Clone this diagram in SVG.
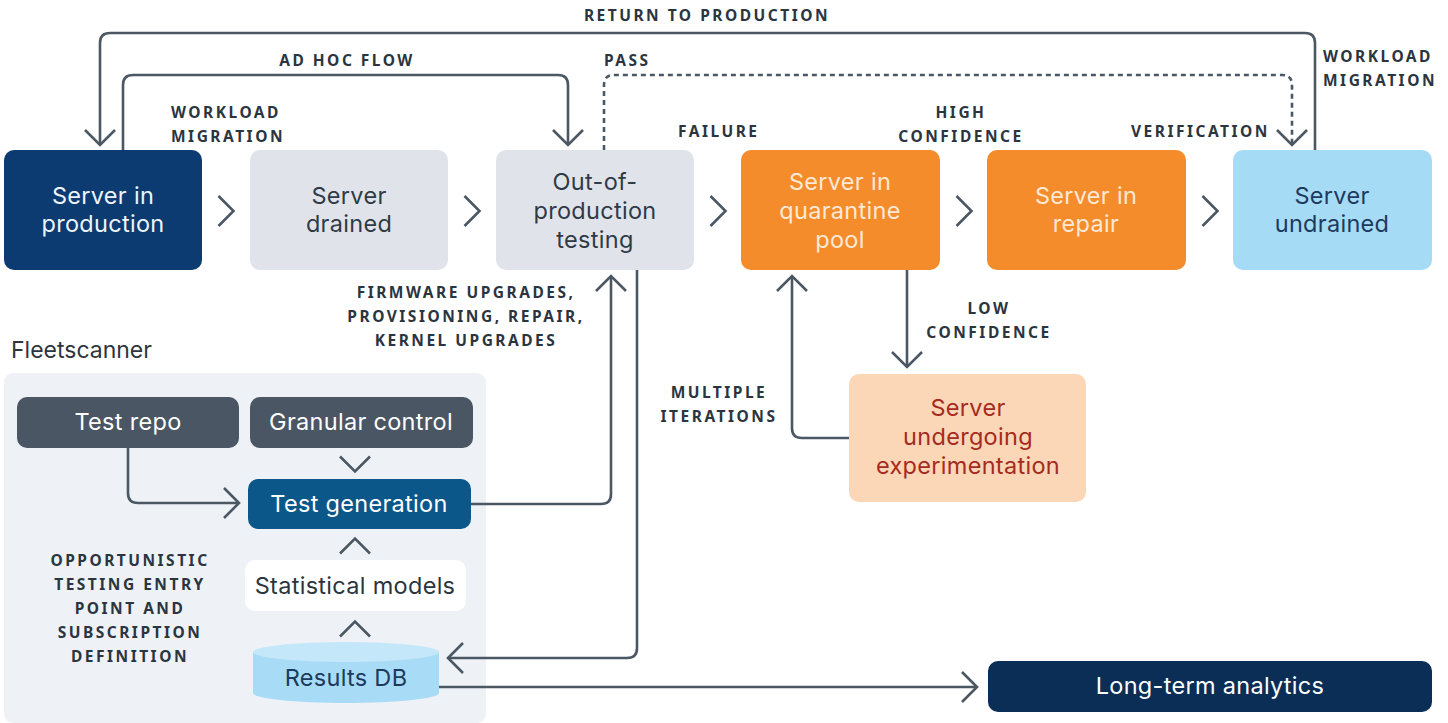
<svg xmlns="http://www.w3.org/2000/svg" xmlns:xlink="http://www.w3.org/1999/xlink" width="1448" height="723" viewBox="0 0 1448 723">
<style>
.node{font-family:Inter,"Noto Sans","Liberation Sans",sans-serif;font-size:23.5px;letter-spacing:0.3px;text-anchor:middle}
.lbl{font-family:"Noto Sans","Liberation Sans",sans-serif;font-size:15.5px;font-weight:700;letter-spacing:2.5px;fill:#2b3540}
.lblm{text-anchor:middle}
.con{fill:none;stroke:#4b5763;stroke-width:2.6}
.chev{fill:none;stroke:#4b5763;stroke-width:2.6;stroke-linejoin:miter}
</style>
<defs>
<marker id="ah" markerUnits="userSpaceOnUse" viewBox="-20 -20 24 40" refX="0" refY="0" markerWidth="24" markerHeight="40" orient="auto" overflow="visible">
<path d="M-15,-15 L0,0 L-15,15" fill="none" stroke="#4b5763" stroke-width="2.6"/>
</marker>
<path id="chev" d="M-7.5,-15 L7.5,0 L-7.5,15" class="chev"/>
</defs>
<rect width="1448" height="723" fill="#ffffff"/>

<!-- Fleetscanner panel -->
<g id="fleetscanner">
<rect x="4" y="373" width="482" height="350" rx="9" fill="#eef2f7"/>
<text x="11" y="358" font-family="Inter,'Noto Sans','Liberation Sans',sans-serif" font-size="23" fill="#2d3640">Fleetscanner</text>
</g>

<!-- connectors -->
<g id="connectors">
<path class="con" d="M1315,150 V43 Q1315,33 1305,33 H110 Q100,33 100,43 V145" marker-end="url(#ah)"/>
<path class="con" d="M123,150 V85 Q123,75 133,75 H558 Q568,75 568,85 V145" marker-end="url(#ah)"/>
<path class="con" d="M604,150 V85 Q604,75 614,75 H1282 Q1292,75 1292,85 V145" stroke-dasharray="5 4" marker-end="url(#ah)"/>
<path class="con" d="M128,447 V493 Q128,503 138,503 H239" marker-end="url(#ah)"/>
<path class="con" d="M471,504 H601 Q611,504 611,494 V276" marker-end="url(#ah)"/>
<path class="con" d="M637,270 V648 Q637,658 627,658 H448" marker-end="url(#ah)"/>
<path class="con" d="M439,687 H977" marker-end="url(#ah)"/>
<path class="con" d="M907,270 V367" marker-end="url(#ah)"/>
<path class="con" d="M849,438 H802 Q792,438 792,428 V276" marker-end="url(#ah)"/>
<use xlink:href="#chev" href="#chev" x="226" y="211"/>
<use xlink:href="#chev" href="#chev" x="472" y="211"/>
<use xlink:href="#chev" href="#chev" x="718" y="211"/>
<use xlink:href="#chev" href="#chev" x="964" y="211"/>
<use xlink:href="#chev" href="#chev" x="1210" y="211"/>
<use xlink:href="#chev" href="#chev" transform="translate(355,464) rotate(90)"/>
<use xlink:href="#chev" href="#chev" transform="translate(355,546) rotate(-90)"/>
<use xlink:href="#chev" href="#chev" transform="translate(355,629) rotate(-90)"/>
</g>

<!-- labels -->
<g id="labels">
<text class="lbl lblm" x="707" y="21">RETURN TO PRODUCTION</text>
<text class="lbl lblm" x="347" y="66">AD HOC FLOW</text>
<text class="lbl" x="604" y="66">PASS</text>
<text class="lbl" x="171" y="118">WORKLOAD</text>
<text class="lbl" x="171" y="142">MIGRATION</text>
<text class="lbl" x="678" y="137">FAILURE</text>
<text class="lbl lblm" x="961" y="118">HIGH</text>
<text class="lbl lblm" x="961" y="142">CONFIDENCE</text>
<text class="lbl" x="1131" y="137">VERIFICATION</text>
<text class="lbl" x="1323" y="62">WORKLOAD</text>
<text class="lbl" x="1323" y="86">MIGRATION</text>
<text class="lbl lblm" x="466" y="298">FIRMWARE UPGRADES,</text>
<text class="lbl lblm" x="466" y="322">PROVISIONING, REPAIR,</text>
<text class="lbl lblm" x="466" y="346">KERNEL UPGRADES</text>
<text class="lbl lblm" x="989" y="314">LOW</text>
<text class="lbl lblm" x="989" y="338">CONFIDENCE</text>
<text class="lbl lblm" x="719" y="398">MULTIPLE</text>
<text class="lbl lblm" x="719" y="422">ITERATIONS</text>
<text class="lbl lblm" x="130" y="566">OPPORTUNISTIC</text>
<text class="lbl lblm" x="130" y="590">TESTING ENTRY</text>
<text class="lbl lblm" x="130" y="614">POINT AND</text>
<text class="lbl lblm" x="130" y="638">SUBSCRIPTION</text>
<text class="lbl lblm" x="130" y="662">DEFINITION</text>
</g>

<!-- nodes -->
<g id="n-production">
<rect x="4" y="150" width="198" height="120" rx="10" fill="#0b3b70"/>
<text class="node" fill="#eef4fa"><tspan x="103" y="203.5">Server in</tspan><tspan x="103" y="232">production</tspan></text>
</g>
<g id="n-drained">
<rect x="250" y="150" width="198" height="120" rx="10" fill="#e0e4ea"/>
<text class="node" fill="#2e3a46"><tspan x="349" y="203.5">Server</tspan><tspan x="349" y="232">drained</tspan></text>
</g>
<g id="n-oop">
<rect x="496" y="150" width="198" height="120" rx="10" fill="#e0e4ea"/>
<text class="node" fill="#2e3a46"><tspan x="595" y="190">Out-of-</tspan><tspan x="595" y="219">production</tspan><tspan x="595" y="248">testing</tspan></text>
</g>
<g id="n-quarantine">
<rect x="741" y="150" width="199" height="120" rx="10" fill="#f48c2b"/>
<text class="node" fill="#fde9d6"><tspan x="840" y="190">Server in</tspan><tspan x="840" y="219">quarantine</tspan><tspan x="840" y="248">pool</tspan></text>
</g>
<g id="n-repair">
<rect x="987" y="150" width="199" height="120" rx="10" fill="#f48c2b"/>
<text class="node" fill="#fde9d6"><tspan x="1086" y="203.5">Server in</tspan><tspan x="1086" y="232">repair</tspan></text>
</g>
<g id="n-undrained">
<rect x="1233" y="150" width="199" height="120" rx="10" fill="#a6dbf6"/>
<text class="node" fill="#1c3a5e"><tspan x="1332" y="203.5">Server</tspan><tspan x="1332" y="232">undrained</tspan></text>
</g>
<g id="n-experiment">
<rect x="849" y="374" width="237" height="128" rx="10" fill="#fbd6b7"/>
<text class="node" fill="#a52a1f"><tspan x="968" y="416">Server</tspan><tspan x="968" y="445">undergoing</tspan><tspan x="968" y="474">experimentation</tspan></text>
</g>
<g id="n-testrepo">
<rect x="17" y="397" width="222" height="51" rx="10" fill="#4a5663"/>
<text class="node" fill="#ffffff" x="128" y="430">Test repo</text>
</g>
<g id="n-granular">
<rect x="250" y="397" width="223" height="51" rx="10" fill="#4a5663"/>
<text class="node" fill="#ffffff" x="361" y="430">Granular control</text>
</g>
<g id="n-testgen">
<rect x="248" y="479" width="223" height="50" rx="10" fill="#0c578a"/>
<text class="node" fill="#ffffff" x="359" y="512">Test generation</text>
</g>
<g id="n-stats">
<rect x="245" y="560" width="221" height="51" rx="10" fill="#ffffff"/>
<text class="node" fill="#2b3540" x="355" y="594">Statistical models</text>
</g>
<g id="n-resultsdb">
<path d="M253,652 V693 A93,10 0 0 0 439,693 V652 Z" fill="#a8dcf6"/>
<ellipse cx="346" cy="652" rx="93" ry="10" fill="#c4e7f9"/>
<text class="node" fill="#1c3a5e" x="346" y="686">Results DB</text>
</g>
<g id="n-analytics">
<rect x="988" y="661" width="444" height="51" rx="10" fill="#0b2e57"/>
<text class="node" fill="#ffffff" x="1210" y="694">Long-term analytics</text>
</g>
</svg>
